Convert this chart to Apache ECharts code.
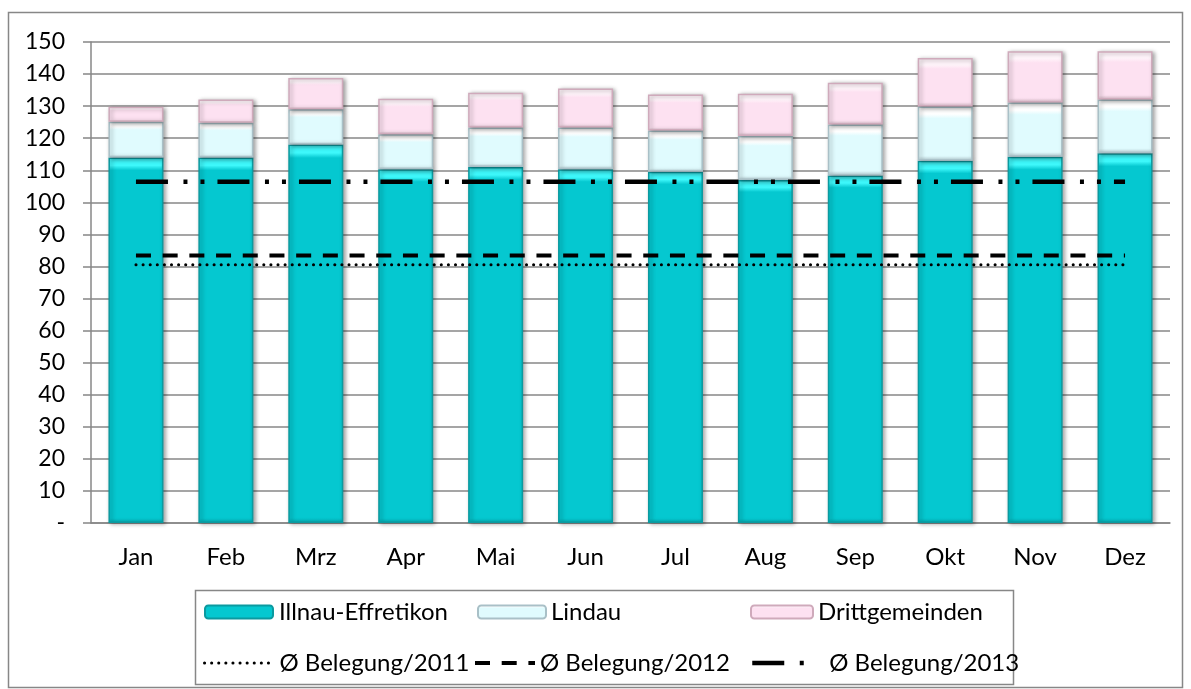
<!DOCTYPE html>
<html>
<head>
<meta charset="utf-8">
<script src="https://cdn.jsdelivr.net/npm/echarts@6/dist/echarts.min.js"></script>
<style>
  html, body { margin: 0; padding: 0; background: #fff; }
  #chart { width: 1191px; height: 689px; }
</style>
</head>
<body>
<div id="chart"></div>
<script>
// Monatsbelegung, gestapelt nach Gemeinde
const months = ['Jan', 'Feb', 'Mrz', 'Apr', 'Mai', 'Jun', 'Jul', 'Aug', 'Sep', 'Okt', 'Nov', 'Dez'];
const illnau = [114, 114, 118, 110.3, 111, 110.3, 109.5, 107, 108.4, 113, 114.2, 115.3];
const lindau = [11.1, 10.8, 11, 10.9, 12.3, 13, 12.9, 13.7, 15.9, 16.9, 16.9, 16.8];
const dritt = [4.7, 7.3, 9.8, 11.1, 10.9, 12.2, 11.2, 13.2, 13, 15.1, 16, 15];
// Durchschnittsbelegung der Jahre
const avg2011 = 80.5;
const avg2012 = 83.4;
const avg2013 = 106.4;
const yTicks = { min: 0, max: 150, step: 10 };

const FONT = 'Lato, "Open Sans", sans-serif';
const GRID_GRAY = '#878787';

const DASH_2011 = [0.1, 7];
const DASH_2012 = [15, 11.7];
const DASH_2013 = [32, 15.5, 4, 13, 4, 13];

let chart = echarts.init(document.getElementById('chart'));

// vertical gradient faking the bevelled bar look (top highlight, darker foot)
function bevel(top, body, bottom, band) {
    return new echarts.graphic.LinearGradient(0, 0, 0, 1, [
        { offset: 0, color: top },
        { offset: band, color: top },
        { offset: band * 1.6, color: body },
        { offset: 1 - band * 0.6, color: body },
        { offset: 1, color: bottom }
    ]);
}

function barSeries(name, data, fill, edge) {
    return {
        name: name,
        type: 'bar',
        stack: 'total',
        barWidth: 55,
        data: data,
        itemStyle: {
            color: fill,
            borderColor: edge,
            borderWidth: 1.5,
            shadowColor: 'rgba(0,0,0,0.35)',
            shadowBlur: 4,
            shadowOffsetX: 2,
            shadowOffsetY: 1
        },
        emphasis: { disabled: true }
    };
}

function avgLine(name, value, width, dash, cap) {
    return {
        name: name,
        type: 'line',
        data: months.map(() => value),
        symbol: 'none',
        z: 5,
        itemStyle: { color: '#000' },
        lineStyle: { color: '#000', width: width, type: dash, cap: cap },
        emphasis: { disabled: true }
    };
}

// one legend per entry so each sits in its Excel column
function legendAt(name, left, top, w, h, textGap, line) {
    let lg = {
        data: [name],
        left: left,
        top: top,
        itemWidth: w,
        itemHeight: h,
        itemGap: 0,
        padding: 0,
        selectedMode: false,
        textStyle: { fontFamily: FONT, fontSize: 24, color: '#000', padding: [0, 0, 0, textGap] }
    };
    if (line) {
        lg.itemStyle = { opacity: 0 };
        lg.lineStyle = line;
    }
    return lg;
}

let option = {
    animation: false,
    backgroundColor: '#fff',
    grid: { left: 91, right: 21, top: 42, bottom: 166 },
    legend: [
        legendAt('Illnau-Effretikon', 204, 600, 68, 13, 1),
        legendAt('Lindau', 477, 600, 68, 13, 0),
        legendAt('Drittgemeinden', 750, 600, 62, 13, 0),
        legendAt('Ø Belegung/2011', 203, 651, 64, 12, 6,
            { color: '#000', width: 3, type: DASH_2011, cap: 'round' }),
        legendAt('Ø Belegung/2012', 473, 651, 60, 12, 0,
            { color: '#000', width: 4, type: DASH_2012 }),
        legendAt('Ø Belegung/2013', 750, 651, 56, 12, 16,
            { color: '#000', width: 4.5, type: DASH_2013 })
    ],
    xAxis: {
        type: 'category',
        data: months,
        axisLine: { lineStyle: { color: GRID_GRAY, width: 1.5 } },
        axisTick: { length: 8, lineStyle: { color: GRID_GRAY, width: 1.5 } },
        axisLabel: { margin: 22, fontFamily: FONT, fontSize: 24, color: '#000' }
    },
    yAxis: {
        type: 'value',
        min: yTicks.min,
        max: yTicks.max,
        interval: yTicks.step,
        axisLine: { show: true, lineStyle: { color: GRID_GRAY, width: 1.5 } },
        axisTick: { show: true, length: 8, lineStyle: { color: GRID_GRAY, width: 1.5 } },
        splitLine: { lineStyle: { color: GRID_GRAY, width: 1.5 } },
        axisLabel: {
            margin: 26,
            fontFamily: FONT,
            fontSize: 23,
            color: '#000',
            formatter: v => (v === 0 ? '-' : String(v))
        }
    },
    series: [
        barSeries('Illnau-Effretikon', illnau, bevel('#3ef8fb', '#05c8d0', '#04adb4', 0.022), '#0b9aa0'),
        barSeries('Lindau', lindau, bevel('#ffffff', '#e0fbfe', '#bcd4da', 0.14), '#a9c0c7'),
        barSeries('Drittgemeinden', dritt, bevel('#fff4fa', '#fde1f1', '#dcbfcd', 0.14), '#cfaabb'),
        avgLine('Ø Belegung/2011', avg2011, 3, DASH_2011, 'round'),
        avgLine('Ø Belegung/2012', avg2012, 4, DASH_2012, 'butt'),
        avgLine('Ø Belegung/2013', avg2013, 4.5, DASH_2013, 'butt')
    ],
    graphic: [
        {
            type: 'rect',
            silent: true,
            shape: { x: 8.5, y: 12.5, width: 1174, height: 675 },
            style: { fill: 'none', stroke: GRID_GRAY, lineWidth: 1.5 }
        },
        {
            type: 'rect',
            silent: true,
            shape: { x: 195.5, y: 590.5, width: 818, height: 94 },
            style: { fill: 'none', stroke: GRID_GRAY, lineWidth: 1.5 }
        }
    ]
};

chart.setOption(option);
</script>
</body>
</html>
